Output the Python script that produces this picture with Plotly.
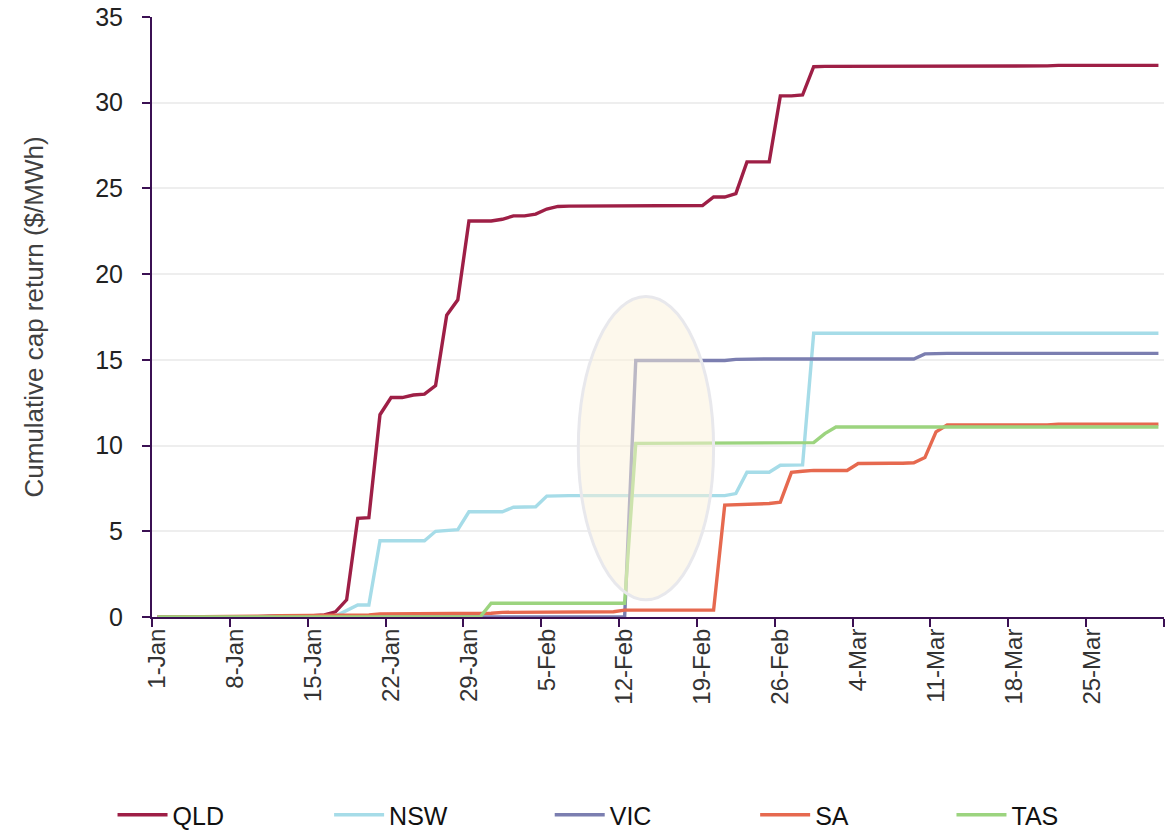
import pandas as pd
import plotly.graph_objects as go

# Daily dates, 1 Jan - 31 Mar (leap year)
dates = list(pd.date_range("2016-01-01", "2016-03-31", freq="D"))
tick_dates = dates[::7]
tick_labels = [f"{d.day}-{d.strftime('%b')}" for d in tick_dates]

QLD = ([0.0] * 6 + [0.02] * 4 + [0.05] * 4 + [0.08, 0.12, 0.3, 1.0, 5.75, 5.8, 11.8, 12.8, 12.8,
       12.95, 13.0, 13.5, 17.6, 18.5, 23.1, 23.1, 23.1, 23.2, 23.4, 23.4, 23.5, 23.8, 23.95]
       + [23.97] * 8 + [24.0] * 5 + [24.5, 24.5, 24.7, 26.55, 26.55, 26.55, 30.4, 30.4, 30.45, 32.1]
       + [32.12] * 3 + [32.15] * 18 + [32.18] * 10)

NSW = ([0.0] * 16 + [0.05, 0.4, 0.7, 0.7] + [4.45] * 5 + [5.0, 5.05, 5.1] + [6.14] * 4
       + [6.4, 6.4, 6.43, 7.05] + [7.08] * 16 + [7.2, 8.44, 8.44, 8.44, 8.85, 8.85, 8.87]
       + [16.55] * 32)

VIC = [0.0] * 43 + [14.96] * 9 + [15.03] + [15.05] * 16 + [15.35] + [15.38] * 21

SA = ([0.0] + [0.02] * 5 + [0.05] * 5 + [0.08] * 5 + [0.12] * 4 + [0.18] * 3 + [0.22] * 5
      + [0.22] * 3 + [0.27] * 2 + [0.31] * 9 + [0.4] * 9
      + [6.53, 6.55, 6.55, 6.6, 6.62, 6.7, 8.44, 8.5, 8.55, 8.55, 8.55, 8.55, 8.95, 8.97, 8.97,
         8.97, 8.97, 9.0, 9.3, 10.8] + [11.2] * 10 + [11.25] * 10)

TAS = [0.0] * 30 + [0.8] * 13 + [10.13] * 16 + [10.17, 10.7] + [11.08] * 30

series = [
    ("QLD", QLD, "#9e1f46"),
    ("NSW", NSW, "#a6dce8"),
    ("VIC", VIC, "#7b7eb0"),
    ("SA", SA, "#e6694f"),
    ("TAS", TAS, "#9cd47f"),
]
legend_x = [-0.039, 0.175, 0.393, 0.596, 0.790]

AXIS = "#3b1053"
FONT = "Liberation Sans, Arial, sans-serif"

fig = go.Figure()
legend_layouts = {}
for i, (name, vals, col) in enumerate(series):
    key = "legend" if i == 0 else f"legend{i + 1}"
    fig.add_trace(go.Scatter(x=dates, y=vals, mode="lines", name=name,
                             line=dict(color=col, width=3.4), legend=key))
    legend_layouts[key] = dict(orientation="h", x=legend_x[i], xanchor="left",
                               y=-0.33, yanchor="middle",
                               font=dict(family=FONT, size=25, color="#111111"),
                               itemwidth=50, bgcolor="rgba(0,0,0,0)")

half = pd.Timedelta(hours=12)
fig.update_xaxes(
    range=[dates[0] - half, dates[-1] + half],
    tickmode="array", tickvals=tick_dates, ticktext=tick_labels,
    tickangle=-90, ticks="", showgrid=False,
    showline=True, linecolor=AXIS, linewidth=2,
    tickfont=dict(family=FONT, size=24, color="#333333"),
    minor=dict(tickmode="array", tickvals=[d - half for d in dates[::7]] + [dates[-1] + half],
               ticks="outside", ticklen=8, tickwidth=2, tickcolor=AXIS, showgrid=False),
    layer="below traces", automargin=False,
)
fig.update_yaxes(
    range=[0, 35], dtick=5, tick0=0,
    ticks="outside", ticklen=8, tickwidth=2, tickcolor=AXIS,
    showline=True, linecolor=AXIS, linewidth=2,
    showgrid=True, gridcolor="#eeeeee", gridwidth=2, zeroline=False,
    tickfont=dict(family=FONT, size=25, color="#222222"),
    ticklabelstandoff=14,
    title=dict(text="Cumulative cap return ($/MWh)", standoff=44,
               font=dict(family=FONT, size=26, color="#404040")),
    layer="below traces", automargin=False,
)

# highlight ellipse
fig.add_shape(type="circle", xref="x", yref="y",
              x0=pd.Timestamp("2016-02-07 20:00"), x1=pd.Timestamp("2016-02-20 00:00"),
              y0=1.0, y1=18.7, layer="above",
              fillcolor="rgba(251,241,217,0.5)", line=dict(color="#e8e8ec", width=3))

fig.update_layout(
    width=1173, height=830,
    margin=dict(l=152, r=9, t=17, b=213, autoexpand=False),
    paper_bgcolor="white", plot_bgcolor="white",
    font=dict(family=FONT),
    showlegend=True,
    **legend_layouts,
)

fig.write_html("out.html", config={"displayModeBar": False},
               post_script="document.body.style.margin='0';document.body.style.overflow='hidden';")
